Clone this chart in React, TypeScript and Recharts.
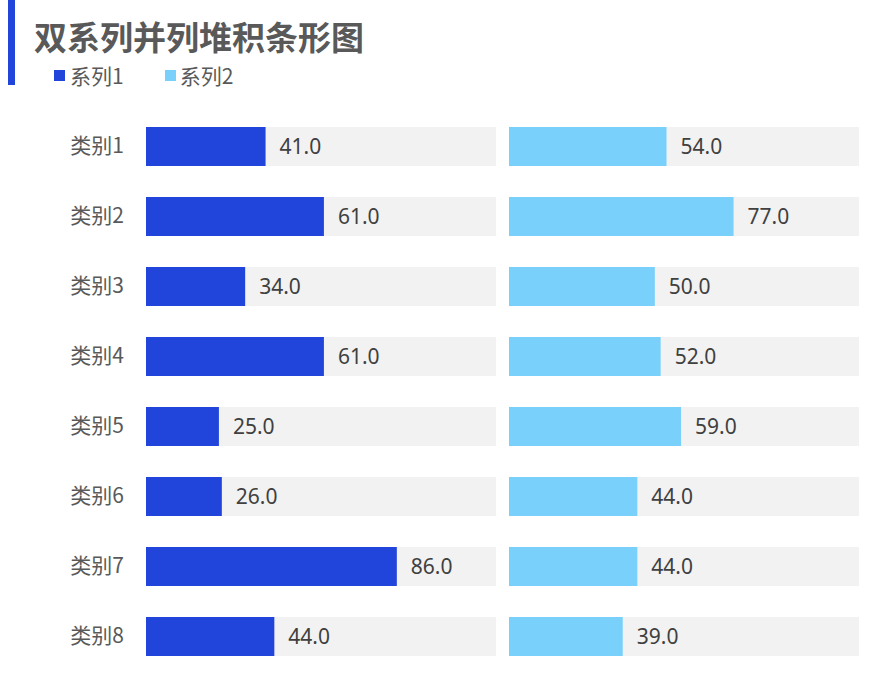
import { BarChart, Bar, XAxis, YAxis, LabelList } from 'recharts'

const categories = ['类别1', '类别2', '类别3', '类别4', '类别5', '类别6', '类别7', '类别8']
const series1 = [41, 61, 34, 61, 25, 26, 86, 44]
const series2 = [54, 77, 50, 52, 59, 44, 44, 39]
const axisMax = 120

const BLUE = '#2145DB'
const LIGHT = '#79D0FB'
const TRACK = '#F2F2F2'
const TEXT = '#595959'

const data = categories.map((name, i) => ({ name, s1: series1[i], s2: series2[i] }))

const cjk = '"Noto Sans CJK SC", "Noto Sans", sans-serif'
const num = '"Noto Sans", "Open Sans", sans-serif'

function Panel({ dataKey, color, showAxis }: { dataKey: string; color: string; showAxis: boolean }) {
  return (
    <BarChart
      width={showAxis ? 496 : 350}
      height={560}
      data={data}
      layout="vertical"
      margin={{ top: 0, right: 0, left: 0, bottom: 0 }}
    >
      <XAxis type="number" domain={[0, axisMax]} hide />
      <YAxis
        type="category"
        dataKey="name"
        hide={!showAxis}
        width={146}
        axisLine={false}
        tickLine={false}
        tickSize={0}
        tickMargin={22}
        tick={{ fontSize: 21, fill: TEXT, fontFamily: cjk }}
      />
      <Bar
        dataKey={dataKey}
        fill={color}
        barSize={39}
        background={{ fill: TRACK }}
        isAnimationActive={false}
      >
        <LabelList
          dataKey={dataKey}
          position="right"
          offset={14}
          formatter={(v: number) => v.toFixed(1)}
          style={{ fontSize: 21, fill: '#404040', fontFamily: num }}
        />
      </Bar>
    </BarChart>
  )
}

export default function App() {
  return (
    <div
      style={{
        position: 'absolute',
        top: 0,
        left: 0,
        width: 875,
        height: 682,
        background: '#fff',
        overflow: 'hidden',
        fontFamily: cjk,
      }}
    >
      <div style={{ position: 'absolute', left: 8, top: 0, width: 7, height: 85, background: BLUE }} />
      <div
        style={{
          position: 'absolute',
          left: 34,
          top: 13,
          fontSize: 33,
          fontWeight: 700,
          color: TEXT,
          lineHeight: '46px',
          whiteSpace: 'nowrap',
        }}
      >
        双系列并列堆积条形图
      </div>
      <div style={{ position: 'absolute', left: 54, top: 60, display: 'flex', alignItems: 'center', fontSize: 21, color: TEXT, lineHeight: '30px' }}>
        <span style={{ display: 'inline-block', width: 11, height: 11, background: BLUE, marginRight: 5 }} />
        <span style={{ marginRight: 41 }}>系列1</span>
        <span style={{ display: 'inline-block', width: 11, height: 11, background: LIGHT, marginRight: 4 }} />
        <span>系列2</span>
      </div>
      <div style={{ position: 'absolute', left: 0, top: 111 }}>
        <Panel dataKey="s1" color={BLUE} showAxis />
      </div>
      <div style={{ position: 'absolute', left: 509, top: 111 }}>
        <Panel dataKey="s2" color={LIGHT} showAxis={false} />
      </div>
    </div>
  )
}
